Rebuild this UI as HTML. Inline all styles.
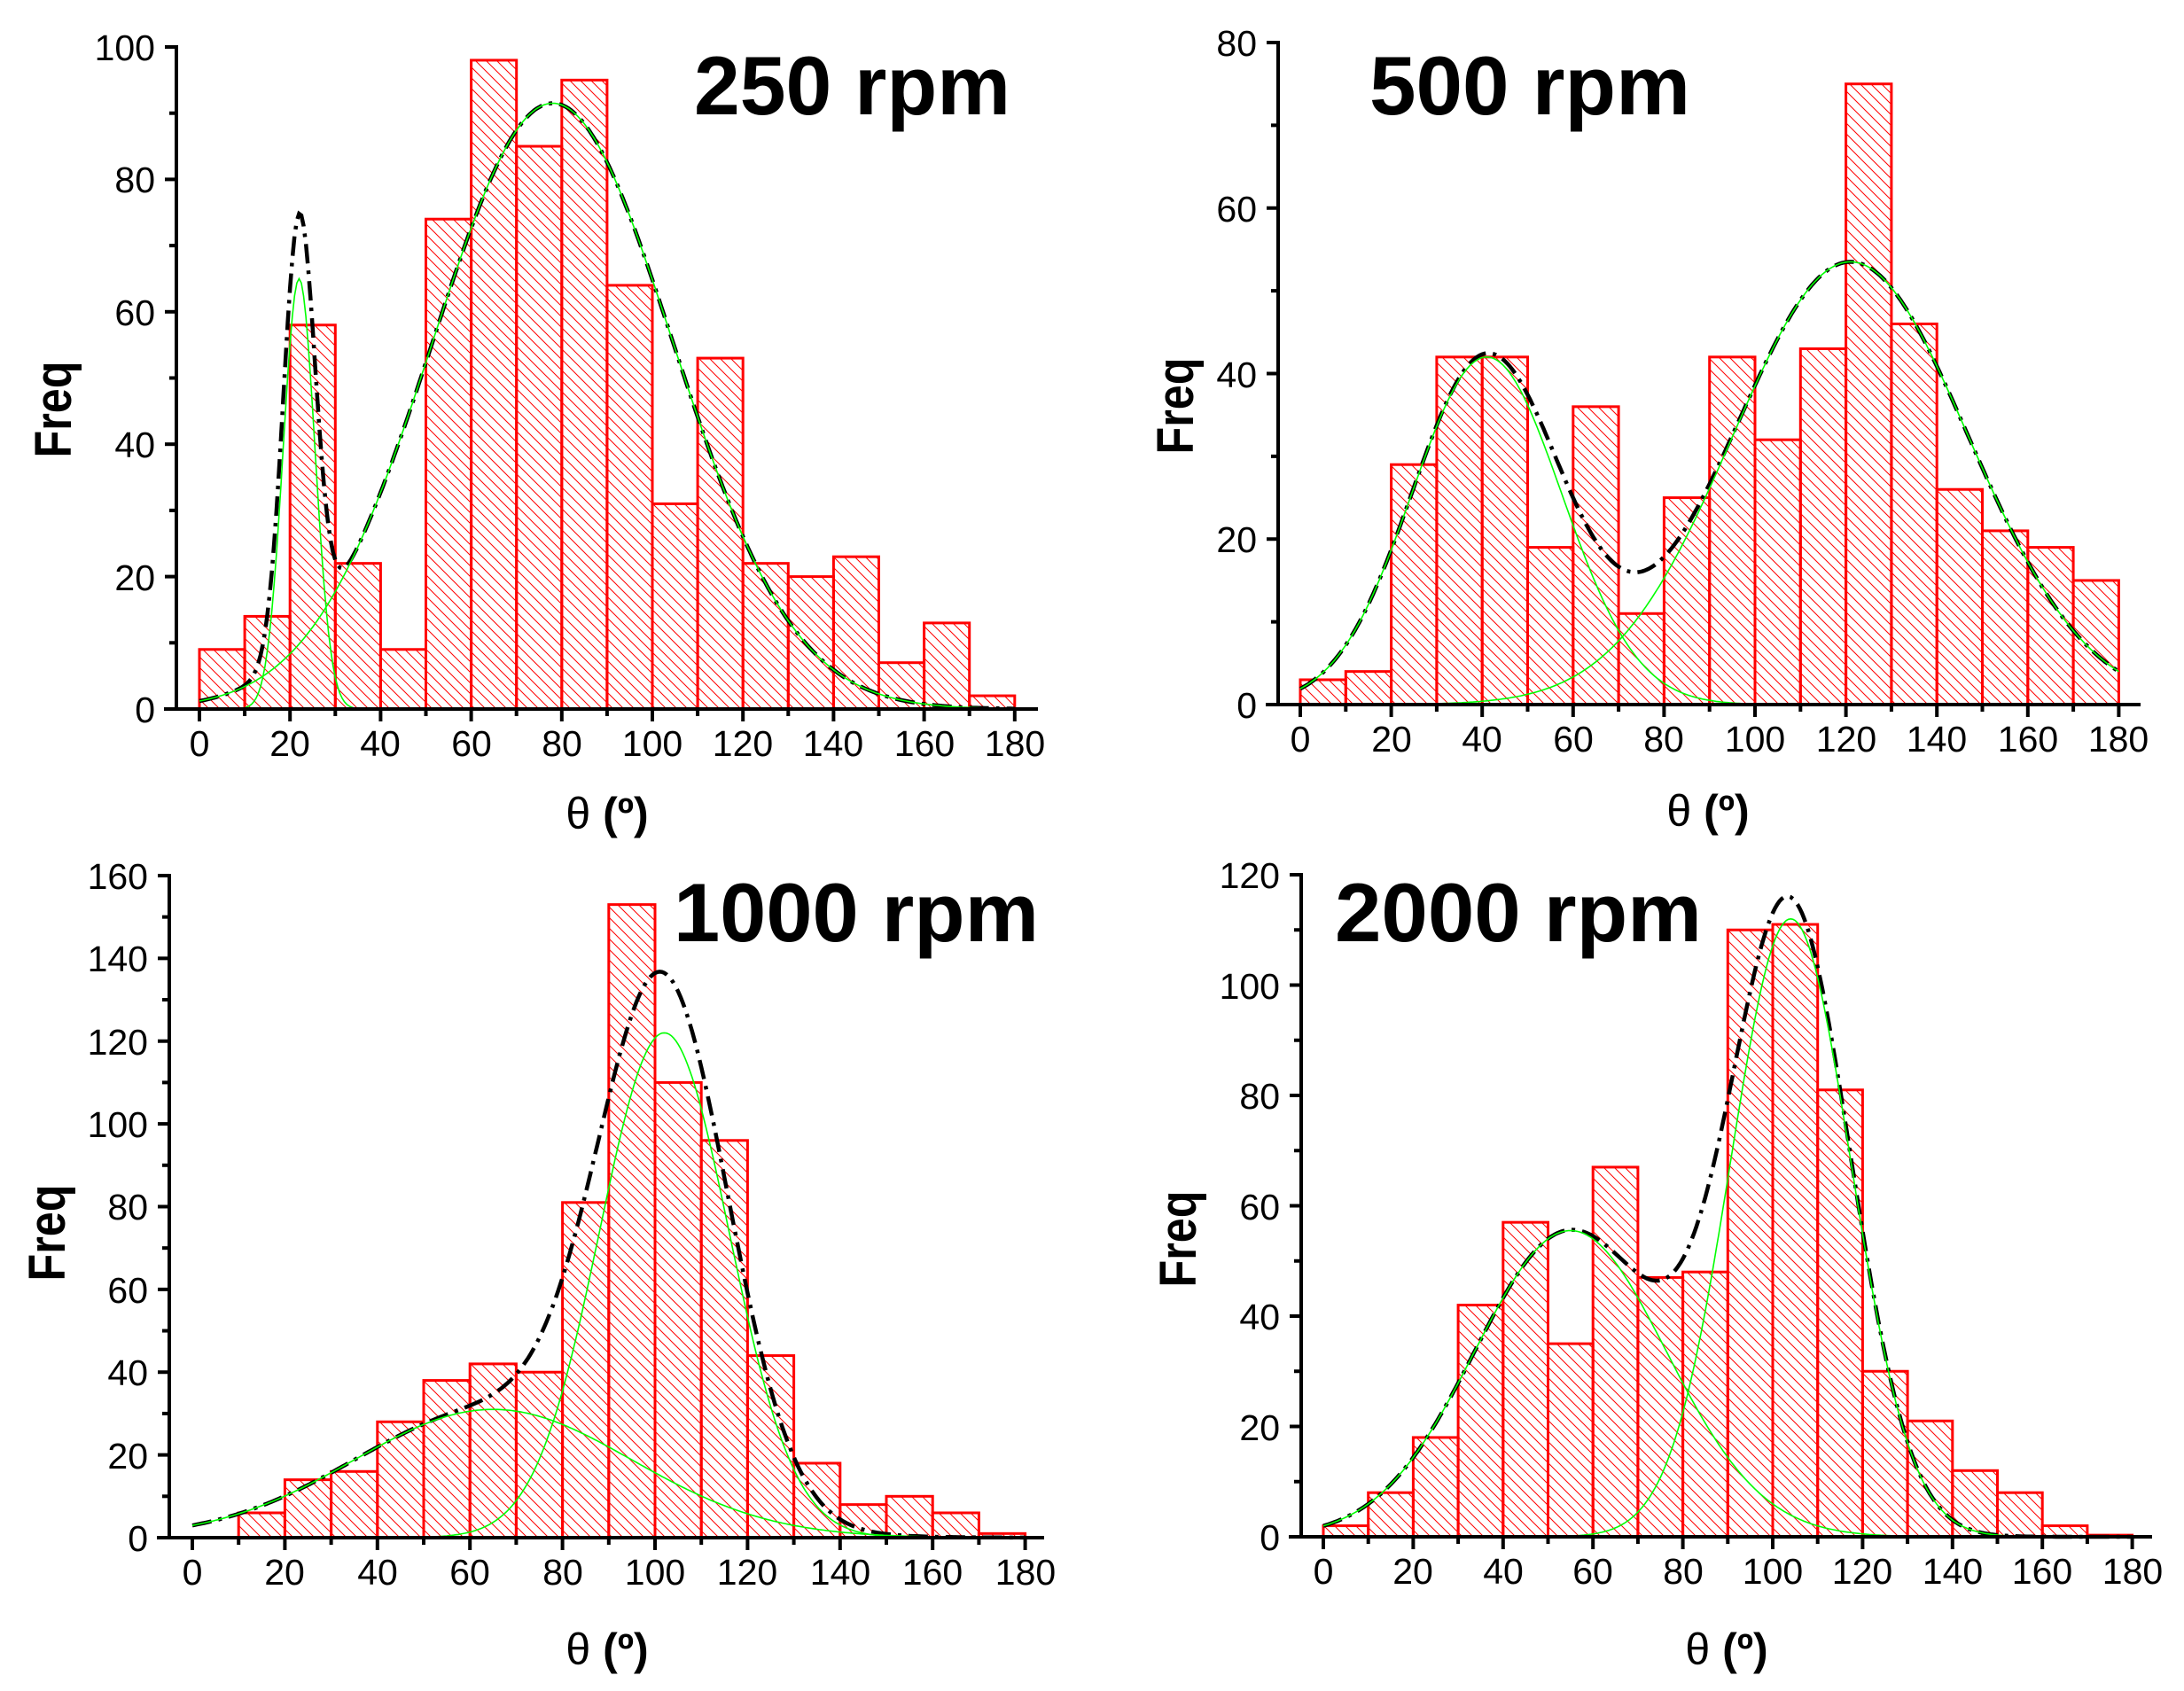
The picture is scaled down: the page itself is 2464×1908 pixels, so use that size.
<!DOCTYPE html>
<html><head><meta charset="utf-8"><style>
html,body{margin:0;padding:0;background:#fff;}
svg{display:block;}
.t{font-family:"Liberation Sans",sans-serif;font-size:41px;fill:#000;}
.ttl{font-family:"Liberation Sans",sans-serif;font-size:94px;font-weight:bold;fill:#000;}
.fq{font-family:"Liberation Sans",sans-serif;font-size:58px;font-weight:bold;fill:#000;}
.th{font-family:"Liberation Sans",sans-serif;font-size:50px;fill:#000;}
</style></head><body>
<svg id="s" width="2464" height="1908" viewBox="0 0 2464 1908" xmlns="http://www.w3.org/2000/svg">
<defs>
<pattern id="h" patternUnits="userSpaceOnUse" width="12" height="12">
<path d="M-1,-1 L13,13 M-13,-1 L1,13 M11,-1 L25,13" stroke="#f00" stroke-width="1"/>
</pattern>
</defs>
<g id="g"></g>
<!-- Panel 1 -->
<g class="t" text-anchor="end">
<text x="175" y="815">0</text><text x="175" y="666">20</text><text x="175" y="516">40</text><text x="175" y="367">60</text><text x="175" y="217">80</text><text x="175" y="68">100</text>
</g>
<g class="t" text-anchor="middle">
<text x="225" y="853">0</text><text x="327" y="853">20</text><text x="429" y="853">40</text><text x="532" y="853">60</text><text x="634" y="853">80</text><text x="736" y="853">100</text><text x="838" y="853">120</text><text x="940" y="853">140</text><text x="1043" y="853">160</text><text x="1145" y="853">180</text>
</g>
<text class="ttl" x="783" y="129" textLength="357" lengthAdjust="spacingAndGlyphs">250 rpm</text>
<text class="fq" transform="translate(80,462) rotate(-90)" text-anchor="middle" textLength="109" lengthAdjust="spacingAndGlyphs">Freq</text>
<text class="th" x="685" y="935" text-anchor="middle">θ <tspan font-weight="bold">(º)</tspan></text>
<!-- Panel 2 -->
<g class="t" text-anchor="end">
<text x="1418" y="810">0</text><text x="1418" y="623">20</text><text x="1418" y="437">40</text><text x="1418" y="250">60</text><text x="1418" y="63">80</text>
</g>
<g class="t" text-anchor="middle">
<text x="1467" y="848">0</text><text x="1570" y="848">20</text><text x="1672" y="848">40</text><text x="1775" y="848">60</text><text x="1877" y="848">80</text><text x="1980" y="848">100</text><text x="2083" y="848">120</text><text x="2185" y="848">140</text><text x="2288" y="848">160</text><text x="2390" y="848">180</text>
</g>
<text class="ttl" x="1545" y="129" textLength="362" lengthAdjust="spacingAndGlyphs">500 rpm</text>
<text class="fq" transform="translate(1346,458) rotate(-90)" text-anchor="middle" textLength="109" lengthAdjust="spacingAndGlyphs">Freq</text>
<text class="th" x="1927" y="932" text-anchor="middle">θ <tspan font-weight="bold">(º)</tspan></text>
<!-- Panel 3 -->
<g class="t" text-anchor="end">
<text x="167" y="1750">0</text><text x="167" y="1657">20</text><text x="167" y="1563">40</text><text x="167" y="1470">60</text><text x="167" y="1376">80</text><text x="167" y="1283">100</text><text x="167" y="1190">120</text><text x="167" y="1096">140</text><text x="167" y="1003">160</text>
</g>
<g class="t" text-anchor="middle">
<text x="217" y="1788">0</text><text x="321" y="1788">20</text><text x="426" y="1788">40</text><text x="530" y="1788">60</text><text x="635" y="1788">80</text><text x="739" y="1788">100</text><text x="843" y="1788">120</text><text x="948" y="1788">140</text><text x="1052" y="1788">160</text><text x="1157" y="1788">180</text>
</g>
<text class="ttl" x="760" y="1062" textLength="412" lengthAdjust="spacingAndGlyphs">1000 rpm</text>
<text class="fq" transform="translate(73,1391) rotate(-90)" text-anchor="middle" textLength="109" lengthAdjust="spacingAndGlyphs">Freq</text>
<text class="th" x="685" y="1878" text-anchor="middle">θ <tspan font-weight="bold">(º)</tspan></text>
<!-- Panel 4 -->
<g class="t" text-anchor="end">
<text x="1444" y="1749">0</text><text x="1444" y="1625">20</text><text x="1444" y="1500">40</text><text x="1444" y="1376">60</text><text x="1444" y="1251">80</text><text x="1444" y="1127">100</text><text x="1444" y="1002">120</text>
</g>
<g class="t" text-anchor="middle">
<text x="1493" y="1787">0</text><text x="1594" y="1787">20</text><text x="1696" y="1787">40</text><text x="1797" y="1787">60</text><text x="1899" y="1787">80</text><text x="2000" y="1787">100</text><text x="2101" y="1787">120</text><text x="2203" y="1787">140</text><text x="2304" y="1787">160</text><text x="2406" y="1787">180</text>
</g>
<text class="ttl" x="1506" y="1062" textLength="414" lengthAdjust="spacingAndGlyphs">2000 rpm</text>
<text class="fq" transform="translate(1349,1398) rotate(-90)" text-anchor="middle" textLength="109" lengthAdjust="spacingAndGlyphs">Freq</text>
<text class="th" x="1948" y="1878" text-anchor="middle">θ <tspan font-weight="bold">(º)</tspan></text>
</svg>
<script>
(function(){
var NS="http://www.w3.org/2000/svg",g=document.getElementById("g");
function el(n,a){var e=document.createElementNS(NS,n);for(var k in a)e.setAttribute(k,a[k]);g.appendChild(e);return e;}
var P=[
{ax:199,y0:800,ky:7.47,x0:225,kx:5.11,ymax:100,xs:185,xe:1171,
 d:[9,14,58,22,9,74,98,85,95,64,31,53,22,20,23,7,13,2],
 G:[[65,22,3.5],[91.5,78,26.5]]},
{ax:1442,y0:795,ky:9.3375,x0:1467,kx:5.13,ymax:80,xs:1428,xe:2415,
 d:[3,4,29,42,42,19,36,11,25,42,32,43,75,46,26,21,19,15],
 G:[[42,41,16.5],[53.5,121,25.9]]},
{ax:191,y0:1735,ky:4.669,x0:217,kx:5.22,ymax:160,xs:177,xe:1178,
 d:[0,6,14,16,28,38,42,40,81,153,110,96,44,18,8,10,6,1],
 G:[[31,65,30],[122,102,14]]},
{ax:1468,y0:1734,ky:6.225,x0:1493,kx:5.07,ymax:120,xs:1454,xe:2428,
 d:[2,8,18,42,57,35,67,47,48,110,111,81,30,21,12,8,2,0.3],
 G:[[55.5,55,21.3],[112,104,13.4]]}];
P.forEach(function(p){
 p.d.forEach(function(v,i){ if(v<=0)return;
  var x=p.x0+i*10*p.kx,w=10*p.kx,y=p.y0-v*p.ky;
  el("rect",{x:x,y:y,width:w,height:v*p.ky,fill:"url(#h)",stroke:"#f00","stroke-width":3});
 });
 function pts(f){var s="";for(var t=0;t<=180;t+=0.5){var v=f(t);s+=(s?" ":"")+(p.x0+t*p.kx).toFixed(1)+","+(p.y0-v*p.ky).toFixed(1);}return s;}
 function gs(a,t){return a[0]*Math.exp(-Math.pow(t-a[1],2)/(2*a[2]*a[2]));}
 el("polyline",{points:pts(function(t){return gs(p.G[0],t)+gs(p.G[1],t);}),fill:"none",stroke:"#000","stroke-width":4.5,"stroke-dasharray":"22 8 4 8"});
 p.G.forEach(function(a){
  el("polyline",{points:pts(function(t){return gs(a,t);}),fill:"none",stroke:"#0f0","stroke-width":1.6});
 });
 el("line",{x1:p.xs,y1:p.y0,x2:p.xe,y2:p.y0,stroke:"#000","stroke-width":4});
 el("line",{x1:p.ax,y1:p.y0+2,x2:p.ax,y2:p.y0-p.ymax*p.ky-2,stroke:"#000","stroke-width":4});
 for(var v=0;v<=p.ymax;v+=10){var y=p.y0-v*p.ky,L=(v%20==0)?13:8;
  el("line",{x1:p.ax-L,y1:y,x2:p.ax,y2:y,stroke:"#000","stroke-width":4});}
 for(var t=0;t<=180;t+=10){var x=p.x0+t*p.kx,L=(t%20==0)?14:8;
  el("line",{x1:x,y1:p.y0,x2:x,y2:p.y0+L,stroke:"#000","stroke-width":4});}
});
})();
</script>
</body></html>
